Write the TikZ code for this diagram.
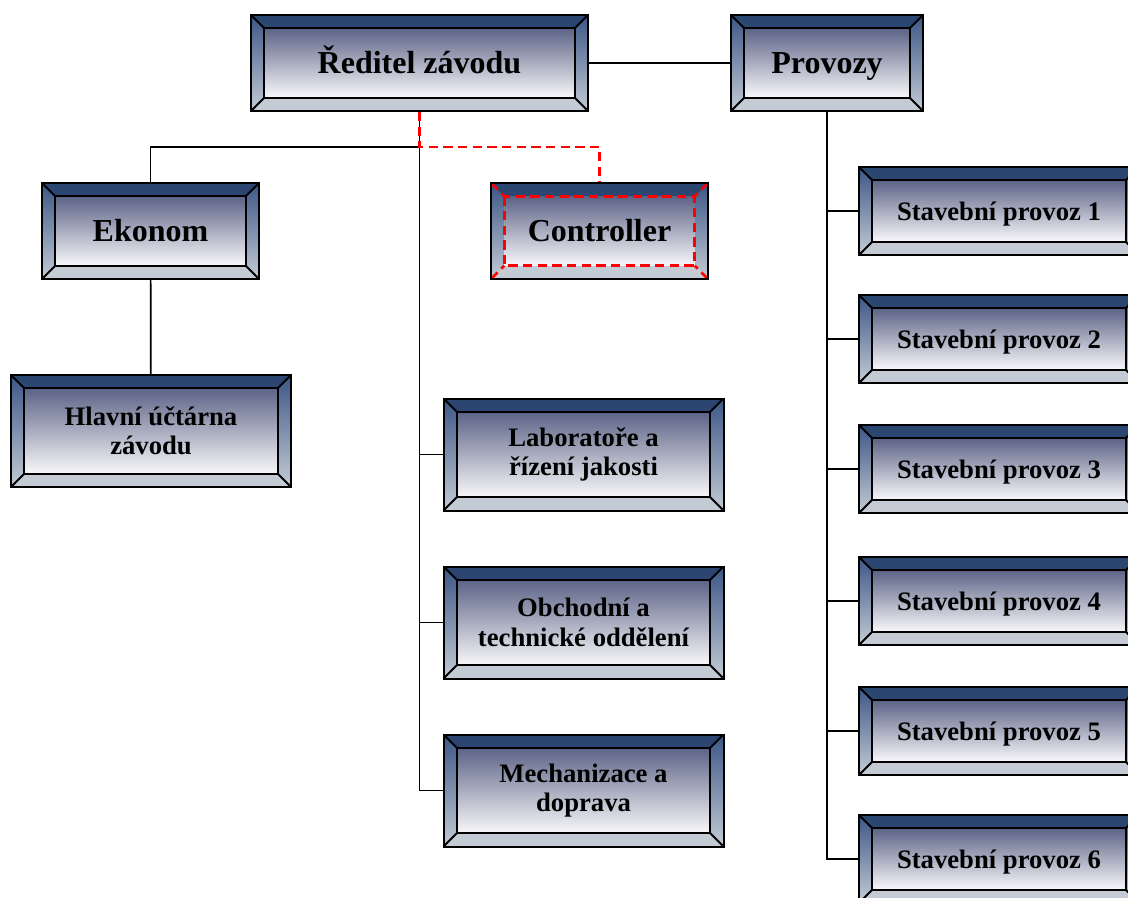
\documentclass[tikz,border=0pt]{standalone}
\usepackage{fontspec}
\setmainfont{Liberation Serif}
\usetikzlibrary{positioning, calc}

\definecolor{bevtop}{HTML}{2C4672}
\definecolor{bevside}{HTML}{3B5686}
\definecolor{bevlow}{HTML}{C4CBD5}
\definecolor{facetop}{HTML}{5C6386}
\definecolor{facelow}{HTML}{F8F8FA}

\def\ppb{path picture bounding box}
\tikzset{
  rim/.style={draw=black, line width=1.5pt},
  reddash/.style={draw=red, line width=2pt, dash pattern=on 7pt off 4pt},
  link/.style={draw=black, line width=1.3pt},
  bigtext/.style={font=\bfseries\fontsize{24}{26}\selectfont, text height=18pt, text depth=3pt},
  oneline/.style={text height=15pt, text depth=1.5pt},
  deptbox/.style 2 args={rectangle, rim, minimum width=#1, minimum height=#2,
    inner sep=0pt, align=center, font=\bfseries\fontsize{20}{22}\selectfont,
    path picture={
      \shade[top color=bevside, bottom color=bevlow] (\ppb.north west) rectangle (\ppb.south east);
      \fill[bevtop] (\ppb.north west) -- (\ppb.north east) -- ([shift={(-10pt,-10pt)}]\ppb.north east) -- ([shift={(10pt,-10pt)}]\ppb.north west) -- cycle;
      \fill[bevlow] (\ppb.south west) -- (\ppb.south east) -- ([shift={(-10pt,10pt)}]\ppb.south east) -- ([shift={(10pt,10pt)}]\ppb.south west) -- cycle;
      \shade[top color=facetop, bottom color=facelow] ([shift={(10pt,-10pt)}]\ppb.north west) rectangle ([shift={(-10pt,10pt)}]\ppb.south east);
      \draw[rim] ([shift={(10pt,-10pt)}]\ppb.north west) rectangle ([shift={(-10pt,10pt)}]\ppb.south east);
      \draw[rim] (\ppb.north west) -- ++(10pt,-10pt) (\ppb.north east) -- ++(-10pt,-10pt)
        (\ppb.south west) -- ++(10pt,10pt) (\ppb.south east) -- ++(-10pt,10pt);
    }},
}

\begin{document}
\begin{tikzpicture}[x=0.75pt, y=-0.75pt]
  \useasboundingbox (0,0) rectangle (1128,897);
  \clip (0,0) rectangle (1128,897);

  % top row
  \node[deptbox={252.75pt}{72pt}, bigtext] (Dir) at (419.5,63) {Ředitel závodu};
  \node[deptbox={144pt}{72pt}, bigtext] (Prov) at (827,63) {Provozy};

  % second level
  \node[deptbox={162.75pt}{72pt}, bigtext] (Ekon) at (150.5,231) {Ekonom};
  \node[deptbox={162.75pt}{72pt}, bigtext, rim/.style={reddash}] (Ctrl) at (599.5,231) {Controller};
  \node[deptbox={210pt}{84pt}] (Ucet) at (151,431) {Hlavní účtárna\\závodu};

  % staff departments
  \node[deptbox={210pt}{84pt}] (Lab) at (583.5,454.5) {Laboratoře a\\řízení jakosti};
  \node[deptbox={210pt}{84pt}, below=40.5pt of Lab] (Obch) {Obchodní a\\technické oddělení};
  \node[deptbox={210pt}{84pt}, below=40.5pt of Obch] (Mech) {Mechanizace a\\doprava};

  % operations
  \node[deptbox={210pt}{66pt}, oneline] (SP1) at (999,211) {Stavební provoz 1};
  \node[deptbox={210pt}{66pt}, oneline] (SP2) at (999,339) {Stavební provoz 2};
  \node[deptbox={210pt}{66pt}, oneline] (SP3) at (999,469) {Stavební provoz 3};
  \node[deptbox={210pt}{66pt}, oneline] (SP4) at (999,601) {Stavební provoz 4};
  \node[deptbox={210pt}{66pt}, oneline] (SP5) at (999,731) {Stavební provoz 5};
  \node[deptbox={210pt}{66pt}, oneline] (SP6) at (999,859) {Stavební provoz 6};

  \coordinate (split) at (Dir.south |- 0,147);

  \draw[link] (Dir) -- (Prov);
  \draw[link] (Dir.south) |- (Mech.west);
  \draw[link] (split) -| (Ekon.north);
  \draw[link] (Lab.west -| Dir.south) -- (Lab.west);
  \draw[link] (Obch.west -| Dir.south) -- (Obch.west);
  \draw[reddash] (Dir.south) -- (split) -| (Ctrl.north);
  \draw[link] (Ekon) -- (Ucet);

  \draw[link] (Prov.south) |- (SP6.west);
  \draw[link] (SP1.west -| Prov.south) -- (SP1.west);
  \draw[link] (SP2.west -| Prov.south) -- (SP2.west);
  \draw[link] (SP3.west -| Prov.south) -- (SP3.west);
  \draw[link] (SP4.west -| Prov.south) -- (SP4.west);
  \draw[link] (SP5.west -| Prov.south) -- (SP5.west);
\end{tikzpicture}
\end{document}
